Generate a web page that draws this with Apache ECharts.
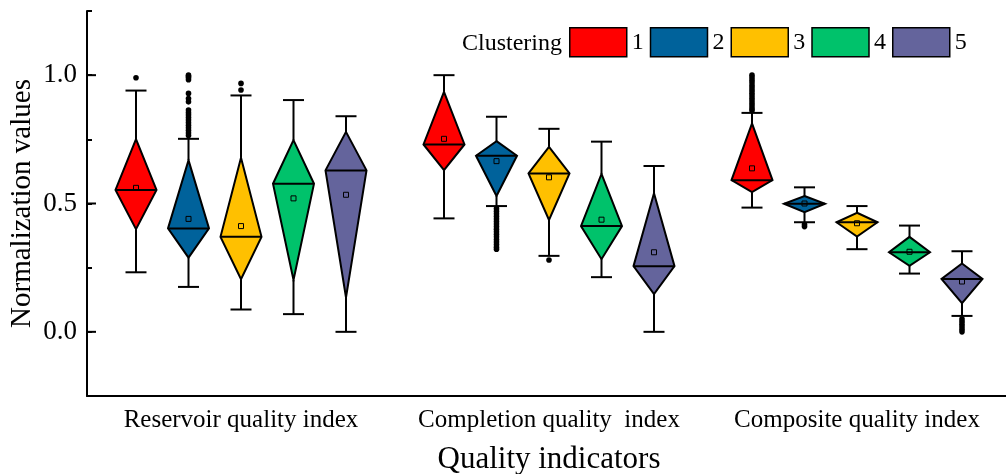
<!DOCTYPE html>
<html>
<head>
<meta charset="utf-8">
<script src="https://cdn.jsdelivr.net/npm/echarts@6/dist/echarts.min.js"></script>
<style>
  html, body { margin: 0; padding: 0; background: #fff; }
  #chart { width: 1006px; height: 474px; }
</style>
</head>
<body>
<div id="chart"></div>
<script>
// Quality indicators on the x axis, clusters drawn side by side within each.
const indicators = ['Reservoir quality index', 'Completion quality  index', 'Composite quality index'];
const clusterNames = ['1', '2', '3', '4', '5'];
const clusterColors = ['#FF0000', '#00629B', '#FFC000', '#00C26B', '#64649C'];

// Per cluster, one row per indicator: [lower whisker, Q1, median, Q3, upper whisker, mean]
const cluster1 = [
  [0.232, 0.400, 0.553, 0.751, 0.940, 0.561],
  [0.442, 0.630, 0.730, 0.935, 1.000, 0.752],
  [0.484, 0.544, 0.591, 0.812, 0.853, 0.637]
];
const cluster2 = [
  [0.175, 0.289, 0.403, 0.669, 0.752, 0.440],
  [0.490, 0.529, 0.686, 0.743, 0.838, 0.665],
  [0.427, 0.466, 0.499, 0.529, 0.563, 0.500]
];
const cluster3 = [
  [0.087, 0.205, 0.370, 0.678, 0.921, 0.412],
  [0.296, 0.436, 0.617, 0.721, 0.791, 0.602],
  [0.322, 0.371, 0.427, 0.464, 0.490, 0.423]
];
const cluster4 = [
  [0.069, 0.202, 0.577, 0.747, 0.903, 0.520],
  [0.213, 0.283, 0.412, 0.615, 0.741, 0.437],
  [0.227, 0.257, 0.310, 0.370, 0.414, 0.312]
];
const cluster5 = [
  [0.000, 0.134, 0.629, 0.779, 0.840, 0.534],
  [0.000, 0.147, 0.256, 0.540, 0.646, 0.310],
  [0.062, 0.112, 0.206, 0.266, 0.314, 0.196]
];

// Outliers per cluster, one list per indicator
const outliers1 = [
  [0.990],
  [],
  [1.000, 0.990, 0.980, 0.970, 0.960, 0.950, 0.940, 0.930, 0.920, 0.910, 0.900, 0.890, 0.880, 0.870, 0.862]
];
const outliers2 = [
  [1.000, 0.995, 0.990, 0.982, 0.929, 0.909, 0.896, 0.864, 0.854, 0.845, 0.835, 0.825, 0.815, 0.805, 0.795, 0.785, 0.775, 0.765],
  [0.480, 0.470, 0.460, 0.450, 0.440, 0.430, 0.420, 0.410, 0.400, 0.390, 0.380, 0.370, 0.360, 0.350, 0.340, 0.330, 0.322],
  [0.418, 0.410]
];
const outliers3 = [
  [0.968, 0.942],
  [0.280],
  []
];
const outliers4 = [[], [], []];
const outliers5 = [
  [],
  [],
  [0.050, 0.040, 0.030, 0.020, 0.010, 0.000]
];

const majorTickValues = [0, 0.5, 1.0];

const clusterStats = [cluster1, cluster2, cluster3, cluster4, cluster5];
const clusterOutliers = [outliers1, outliers2, outliers3, outliers4, outliers5];

const FONT = "'Liberation Serif', 'Times New Roman', serif";

// Diamond box: top at Q3, bottom at Q1, widest at the median.
function makeRenderer(k) {
  return function (params, api) {
    const cat = api.value(0);
    const bandW = api.size([1, 0])[0];
    const step = bandW * 52.5 / 308;
    const x = api.coord([cat, 0])[0] + (k - 2) * step;
    const hw = bandW * 20.5 / 308;
    const capW = bandW * 10.5 / 308;
    const yy = v => api.coord([cat, v])[1];
    const yLow = yy(api.value(1));
    const yQ1 = yy(api.value(2));
    const yMed = yy(api.value(3));
    const yQ3 = yy(api.value(4));
    const yHigh = yy(api.value(5));
    const yMean = yy(api.value(6));
    const line = { stroke: '#000', lineWidth: 2 };
    const children = [
      { type: 'line', shape: { x1: x, y1: yQ3, x2: x, y2: yHigh }, style: line },
      { type: 'line', shape: { x1: x - capW, y1: yHigh, x2: x + capW, y2: yHigh }, style: line },
      { type: 'line', shape: { x1: x, y1: yQ1, x2: x, y2: yLow }, style: line },
      { type: 'line', shape: { x1: x - capW, y1: yLow, x2: x + capW, y2: yLow }, style: line },
      {
        type: 'polygon',
        shape: { points: [[x, yQ3], [x + hw, yMed], [x, yQ1], [x - hw, yMed]] },
        style: { fill: clusterColors[k], stroke: '#000', lineWidth: 2, lineJoin: 'miter' }
      },
      { type: 'line', shape: { x1: x - hw, y1: yMed, x2: x + hw, y2: yMed }, style: line },
      { type: 'rect', shape: { x: x - 2.5, y: yMean - 2.5, width: 5, height: 5 }, style: { fill: 'none', stroke: '#000', lineWidth: 1 } }
    ];
    const outs = clusterOutliers[k][params.dataIndex];
    outs.forEach(v => {
      children.push({ type: 'circle', shape: { cx: x, cy: yy(v), r: 2.8 }, style: { fill: '#000' } });
    });
    return { type: 'group', children: children };
  };
}

const boxSeries = clusterStats.map((stats, k) => ({
  name: clusterNames[k],
  type: 'custom',
  renderItem: makeRenderer(k),
  itemStyle: { color: clusterColors[k], borderColor: '#000', borderWidth: 1.5 },
  encode: { x: 0, y: [1, 2, 3, 4, 5] },
  data: stats.map((s, i) => [i].concat(s)),
  clip: false,
  z: 3
}));

// Longer ticks at the labelled values
const majorTickSeries = {
  type: 'custom',
  silent: true,
  renderItem: function (params, api) {
    const y = api.coord([0, api.value(1)])[1];
    const x0 = params.coordSys.x;
    return { type: 'line', shape: { x1: x0, y1: y, x2: x0 + 9, y2: y }, style: { stroke: '#000', lineWidth: 2 } };
  },
  encode: { x: 0, y: 1 },
  data: majorTickValues.map(v => [0, v]),
  clip: false,
  z: 5
};

const chart = echarts.init(document.getElementById('chart'), null, { renderer: 'canvas' });
chart.setOption({
  animation: false,
  backgroundColor: '#fff',
  textStyle: { fontFamily: FONT, color: '#000' },
  grid: { left: 87, top: 11, width: 924, height: 385, containLabel: false, outerBoundsMode: 'none' },
  legend: {
    data: clusterNames,
    left: 569,
    top: 27,
    padding: 0,
    icon: 'rect',
    itemWidth: 57,
    itemHeight: 29,
    itemGap: 6,
    selectedMode: false,
    itemStyle: { borderColor: '#000', borderWidth: 1.5 },
    textStyle: { fontFamily: FONT, fontSize: 24, color: '#000', padding: [0, 0, 0, 0] }
  },
  graphic: [{
    type: 'text',
    right: 1006 - 562,
    top: 32,
    style: { text: 'Clustering', font: "24px 'Liberation Serif', serif", fill: '#000' }
  }],
  xAxis: {
    type: 'category',
    data: indicators,
    boundaryGap: true,
    name: 'Quality indicators',
    nameLocation: 'middle',
    nameGap: 48,
    nameMoveOverlap: false,
    nameTextStyle: { fontFamily: FONT, fontSize: 31, color: '#000' },
    axisLine: { onZero: false, lineStyle: { color: '#000', width: 2 } },
    axisTick: { show: false },
    axisLabel: { fontFamily: FONT, fontSize: 25, color: '#000', margin: 12, interval: 0 },
    splitLine: { show: false }
  },
  yAxis: {
    type: 'value',
    min: -0.25,
    max: 1.25,
    interval: 0.25,
    name: 'Normalization values',
    nameLocation: 'middle',
    nameGap: 50,
    nameMoveOverlap: false,
    nameTextStyle: { fontFamily: FONT, fontSize: 29, color: '#000' },
    axisLine: { show: true, onZero: false, lineStyle: { color: '#000', width: 2 } },
    axisTick: { show: true, inside: true, length: 5, lineStyle: { color: '#000', width: 2 } },
    axisLabel: {
      fontFamily: FONT, fontSize: 27, color: '#000', margin: 10,
      formatter: function (v) {
        const r = Math.round(v * 2) / 2;
        return (Math.abs(v - r) < 1e-9 && v >= 0 && v <= 1) ? v.toFixed(1) : '';
      }
    },
    splitLine: { show: false }
  },
  series: boxSeries.concat([majorTickSeries])
});
</script>
</body>
</html>
